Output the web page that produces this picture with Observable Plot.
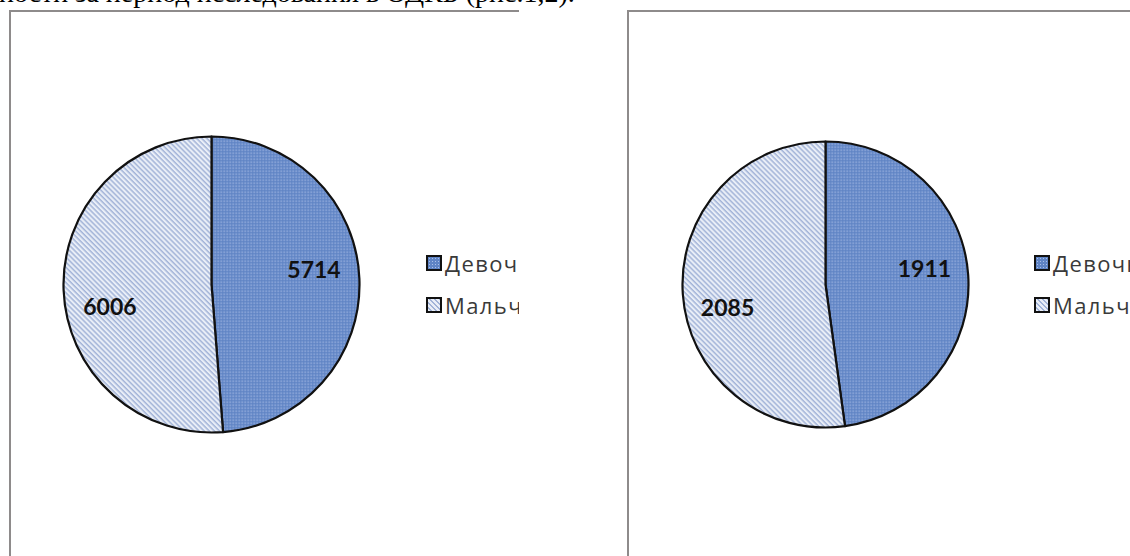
<!DOCTYPE html>
<html><head><meta charset="utf-8">
<script src="https://cdn.jsdelivr.net/npm/d3@7"></script>
<script src="https://cdn.jsdelivr.net/npm/@observablehq/plot@0.6"></script>
<style>
html,body{margin:0;padding:0}
body{width:1130px;height:556px;overflow:hidden;background:#fff;position:relative}
#top{position:absolute;left:-1px;top:-21px;font:28px/28px "Liberation Serif";white-space:nowrap;color:#000;z-index:5}
.panel{position:absolute;top:10px;height:560px;overflow:hidden;border-top:2.5px solid #8e8b8b;border-left:2.5px solid #8e8b8b;background:#fff}
#p1{left:9px;width:508px}
#p2{left:627px;width:520px}
.legend{position:absolute;font:22px "Open Sans",Lato,sans-serif;letter-spacing:1.4px;color:#3a3a3a;white-space:nowrap}
.legend .row{position:absolute;left:0;display:flex;align-items:center;height:22px}
.legend .sw{width:12px;height:12px;border:2px solid #111;margin-right:3px;box-sizing:content-box;flex:none}
.sw.dots{background-color:#5f84c5;background-image:radial-gradient(#a9bfe8 40%,transparent 45%);background-size:3px 3px}
.sw.stripes{background:repeating-linear-gradient(45deg,#e9eef7 0 2px,#a1b3d8 2px 3.5px)}
.panel svg{position:absolute;left:0;top:0;max-width:none !important;overflow:visible}
</style>
</head><body>
<svg width="0" height="0" style="position:absolute">
  <defs>
    <pattern id="dots" width="3" height="3" patternUnits="userSpaceOnUse">
      <rect width="3" height="3" fill="#5e83c4"/>
      <rect x="0" y="0" width="1.4" height="1.4" fill="#a8bde6"/>
    </pattern>
    <pattern id="stripes" width="4" height="3.6" patternUnits="userSpaceOnUse" patternTransform="rotate(45)">
      <rect width="4" height="3.6" fill="#e9eef7"/>
      <rect width="4" height="1.5" fill="#a3b4d8"/>
    </pattern>
  </defs>
</svg>
<div id="top">ности за период исследования в ОДКБ (рис.1,2).</div>
<div class="panel" id="p1"></div>
<div class="panel" id="p2"></div>
<script>
const categories = ["Девочки", "Мальчики"];
const valuesLeft = [5714, 6006];
const valuesRight = [1911, 2085];
const patterns = ["url(#dots)", "url(#stripes)"];

function pieChart(values, opts) {
  const rows = categories.map((c, i) => ({cat: c, value: values[i], fill: patterns[i]}));
  const arcs = d3.pie().sort(null).value(d => d.value)(rows);
  const k = 0.69;
  const labels = arcs.map(a => {
    const m = (a.startAngle + a.endAngle) / 2;
    return {cat: a.data.cat, value: a.data.value, x: k * Math.sin(m), y: k * Math.cos(m)};
  });
  const {cx, cy, r} = opts;
  const arcMark = (index, scales) => {
    const x0 = scales.x(0), y0 = scales.y(0), rad = scales.x(1) - scales.x(0);
    const g = d3.create("svg:g").attr("transform", `translate(${x0},${y0})`);
    const arcGen = d3.arc().innerRadius(0).outerRadius(rad);
    g.selectAll("path").data(arcs).join("path")
      .attr("d", arcGen)
      .attr("fill", d => d.data.fill)
      .attr("stroke", "#111")
      .attr("stroke-width", 2.2)
      .attr("stroke-linejoin", "round");
    return g.node();
  };
  const textOpts = {x: "x", y: "y", text: d => String(d.value), fontSize: 23, fontWeight: 700, fontFamily: "Lato", fill: "#111"};
  return Plot.plot({
    width: 640, height: 560,
    style: {background: "transparent", overflow: "visible", maxWidth: "none"},
    x: {domain: [-1, 1], range: [cx - r, cx + r], axis: null},
    y: {domain: [-1, 1], range: [cy + r, cy - r], axis: null},
    marks: [
      arcMark,
      Plot.text(labels.filter(d => d.cat === categories[0]), {...textOpts, dy: opts.dy0}),
      Plot.text(labels.filter(d => d.cat === categories[1]), {...textOpts, dy: opts.dy1})
    ]
  });
}

function legend(parent, left, top) {
  const lg = document.createElement("div");
  lg.className = "legend";
  lg.style.left = left + "px";
  lg.style.top = top + "px";
  const cls = ["dots", "stripes"];
  categories.forEach((c, i) => {
    const row = document.createElement("div");
    row.className = "row";
    row.style.top = (i * 42) + "px";
    row.innerHTML = `<div class="sw ${cls[i]}"></div><span>${c}</span>`;
    lg.appendChild(row);
  });
  parent.appendChild(lg);
}

const p1 = document.getElementById("p1");
p1.appendChild(pieChart(valuesLeft, {cx: 200.5, cy: 272.5, r: 148, dy0: -10, dy1: 19}));
legend(p1, 415, 240);
const p2 = document.getElementById("p2");
p2.appendChild(pieChart(valuesRight, {cx: 196.5, cy: 272.5, r: 143, dy0: -9, dy1: 17}));
legend(p2, 405, 240);
</script>
</body></html>
